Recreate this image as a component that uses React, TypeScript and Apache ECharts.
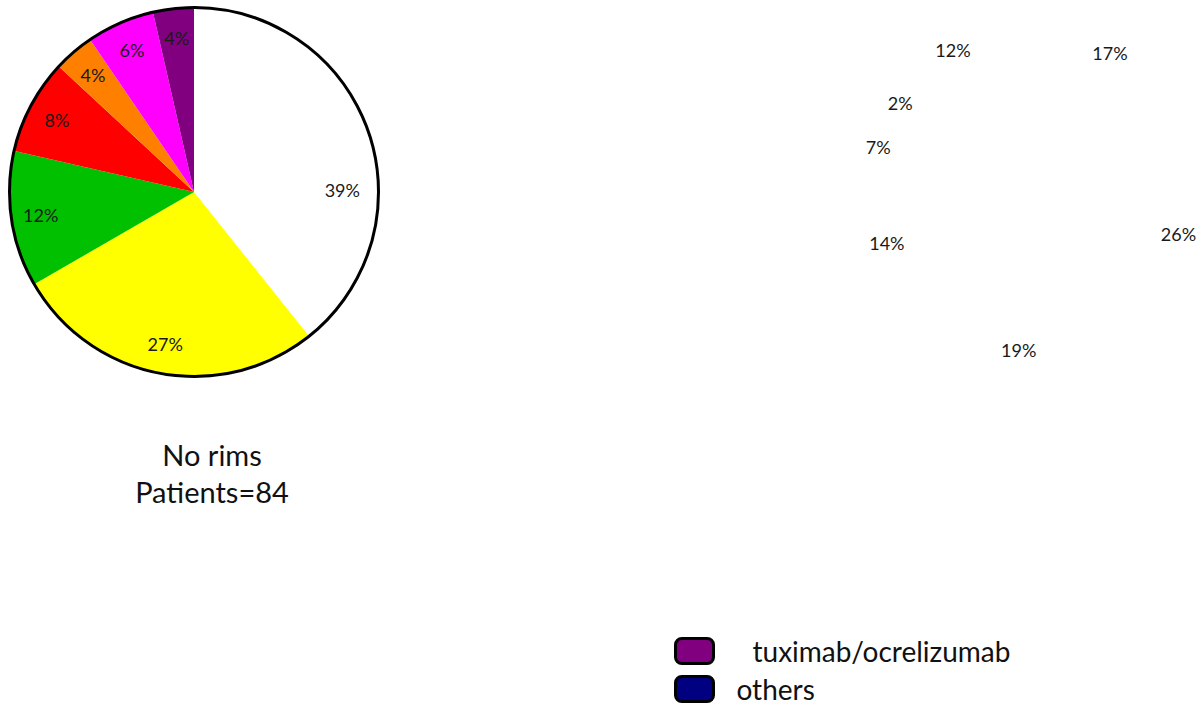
import React, { useEffect, useRef } from "react";
import * as echarts from "echarts";

// Left pie: "No rims", patients = 84 (counts per treatment group)
const leftNames = ["group 1", "group 2", "group 3", "group 4", "group 5", "group 6", "tuximab/ocrelizumab"];
const leftCounts = [33, 23, 10, 7, 3, 5, 3];
const leftColors = ["#FFFFFF", "#FFFF00", "#00C000", "#FF0000", "#FF8000", "#FF00FF", "#800080"];
const leftTitle = "No rims\nPatients=84";

// Right pie: only its percentage labels are visible
const rightNames = ["group 1", "group 2", "group 3", "group 4", "group 5", "group 6", "tuximab/ocrelizumab", "others"];
const rightPercents = [17, 26, 19, 14, 7, 2, 12, 3];
const rightLabelShown = [true, true, true, true, true, true, true, false];

// Legend entries that are visible
const legendNames = ["tuximab/ocrelizumab", "others"];
const legendColors = ["#800080", "#000080"];

const FONT = "Lato, 'Noto Sans', sans-serif";

export default function App() {
  const ref = useRef<HTMLDivElement>(null);
  useEffect(() => {
    if (!ref.current) return;
    const chart = echarts.init(ref.current, undefined, { renderer: "svg" });
    const total = leftCounts.reduce((a, b) => a + b, 0);
    const L = { cx: 194, cy: 192, r: 184, lr: 152 };
    const R = { cx: 1031, cy: 186, r: 184, lr: 152 };
    const labelStyle = { fontSize: 18, color: "#1a1a1a", fontFamily: FONT };

    chart.setOption({
      animation: false,
      backgroundColor: "#ffffff",
      title: {
        text: leftTitle,
        left: 212,
        top: 436,
        padding: 0,
        textAlign: "center",
        textStyle: { fontSize: 29, fontWeight: "normal", color: "#111", fontFamily: FONT, lineHeight: 37 },
      },
      legend: {
        orient: "vertical",
        left: 674,
        top: 637,
        height: 66,
        padding: 0,
        itemWidth: 38,
        itemHeight: 25,
        itemGap: 10,
        icon: "roundRect",
        selectedMode: false,
        itemStyle: { borderColor: "#000", borderWidth: 3 },
        textStyle: { fontSize: 28, lineHeight: 25, color: "#111", fontFamily: FONT },
        data: legendNames.map((n, i) => ({
          name: n,
          itemStyle: { color: legendColors[i], borderColor: "#000", borderWidth: 3 },
          textStyle: { padding: [0, 0, 0, i === 0 ? 34 : 18] },
        })),
      },
      graphic: [
        {
          type: "circle",
          shape: { cx: L.cx, cy: L.cy, r: L.r + 0.5 },
          style: { fill: "none", stroke: "#000", lineWidth: 3 },
          z: 10,
          silent: true,
        },
      ],
      series: [
        {
          type: "pie",
          name: "No rims",
          center: [L.cx, L.cy],
          radius: [0, L.r],
          startAngle: 90,
          clockwise: true,
          silent: true,
          label: { show: false },
          labelLine: { show: false },
          itemStyle: { borderWidth: 0 },
          data: leftNames.map((n, i) => ({ name: n, value: leftCounts[i], itemStyle: { color: leftColors[i] } })),
        },
        {
          type: "pie",
          name: "No rims labels",
          center: [L.cx, L.cy],
          radius: [2 * L.lr - L.r, L.r],
          startAngle: 90,
          clockwise: true,
          silent: true,
          legendHoverLink: false,
          itemStyle: { color: "rgba(0,0,0,0)", borderWidth: 0 },
          label: {
            show: true,
            position: "inside",
            ...labelStyle,
            formatter: (p: any) => Math.round((p.value / total) * 100) + "%",
          },
          labelLine: { show: false },
          data: leftNames.map((n, i) => ({
            name: n,
            value: leftCounts[i],
            ...(i === 0 ? { label: { offset: [2, 49] } } : {}),
          })),
        },
        {
          type: "pie",
          name: "Rims labels",
          center: [R.cx, R.cy],
          radius: [2 * R.lr - R.r, R.r],
          startAngle: 90,
          clockwise: true,
          silent: true,
          legendHoverLink: false,
          itemStyle: { color: "rgba(0,0,0,0)", borderWidth: 0 },
          label: {
            show: true,
            position: "inside",
            ...labelStyle,
            formatter: (p: any) => p.value + "%",
          },
          labelLine: { show: false },
          data: rightNames.map((n, i) => ({
            name: n,
            value: rightPercents[i],
            label: {
              show: rightLabelShown[i],
              ...(i === 2 ? { offset: [12, 11] } : {}),
              ...(i === 6 ? { offset: [5, -5] } : {}),
              ...(i === 4 ? { offset: [-4, 4] } : {}),
            },
          })),
        },
      ],
    });
    return () => chart.dispose();
  }, []);
  return (
    <div
      ref={ref}
      style={{ position: "fixed", left: 0, top: 0, width: 1202, height: 705, background: "#fff" }}
    />
  );
}
